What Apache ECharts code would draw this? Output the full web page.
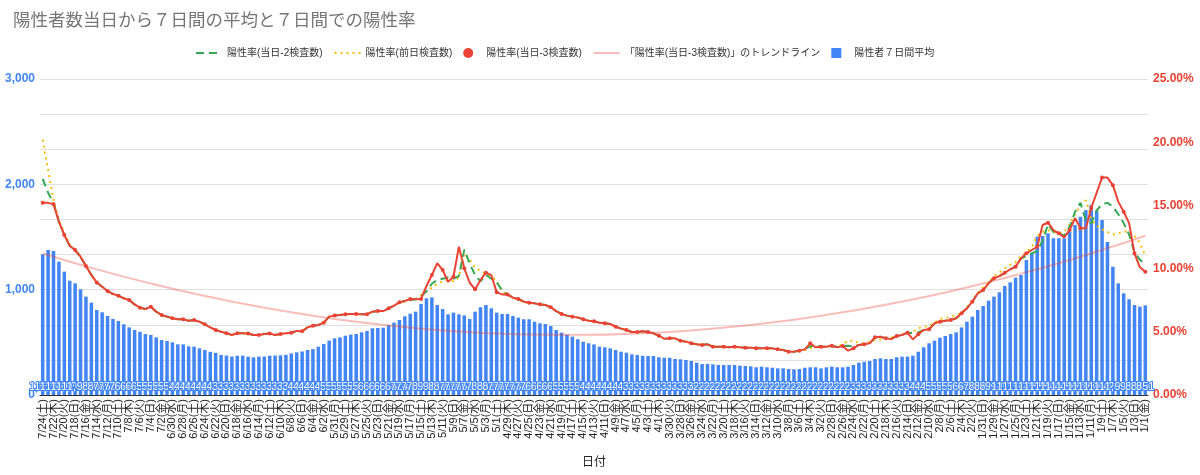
<!DOCTYPE html>
<html><head><meta charset="utf-8">
<script src="https://cdn.jsdelivr.net/npm/echarts@6/dist/echarts.min.js"></script>
<style>html,body{margin:0;padding:0;background:#fff}#c{width:1200px;height:475px}</style>
</head><body><div id="c"></div>
<script>
const categories = [
'7/24(土)','7/23(金)','7/22(木)','7/21(水)','7/20(火)','7/19(月)','7/18(日)','7/17(土)','7/16(金)','7/15(木)','7/14(水)','7/13(火)','7/12(月)','7/11(日)','7/10(土)','7/9(金)','7/8(木)','7/7(水)','7/6(火)','7/5(月)','7/4(日)','7/3(土)','7/2(金)','7/1(木)',
'6/30(水)','6/29(火)','6/28(月)','6/27(日)','6/26(土)','6/25(金)','6/24(木)','6/23(水)','6/22(火)','6/21(月)','6/20(日)','6/19(土)','6/18(金)','6/17(木)','6/16(水)','6/15(火)','6/14(月)','6/13(日)','6/12(土)','6/11(金)','6/10(木)','6/9(水)','6/8(火)','6/7(月)','6/6(日)','6/5(土)','6/4(金)','6/3(木)','6/2(水)','6/1(火)',
'5/31(月)','5/30(日)','5/29(土)','5/28(金)','5/27(木)','5/26(水)','5/25(火)','5/24(月)','5/23(日)','5/22(土)','5/21(金)','5/20(木)','5/19(水)','5/18(火)','5/17(月)','5/16(日)','5/15(土)','5/14(金)','5/13(木)','5/12(水)','5/11(火)','5/10(月)','5/9(日)','5/8(土)','5/7(金)','5/6(木)','5/5(水)','5/4(火)','5/3(月)','5/2(日)','5/1(土)',
'4/30(金)','4/29(木)','4/28(水)','4/27(火)','4/26(月)','4/25(日)','4/24(土)','4/23(金)','4/22(木)','4/21(水)','4/20(火)','4/19(月)','4/18(日)','4/17(土)','4/16(金)','4/15(木)','4/14(水)','4/13(火)','4/12(月)','4/11(日)','4/10(土)','4/9(金)','4/8(木)','4/7(水)','4/6(火)','4/5(月)','4/4(日)','4/3(土)','4/2(金)','4/1(木)',
'3/31(水)','3/30(火)','3/29(月)','3/28(日)','3/27(土)','3/26(金)','3/25(木)','3/24(水)','3/23(火)','3/22(月)','3/21(日)','3/20(土)','3/19(金)','3/18(木)','3/17(水)','3/16(火)','3/15(月)','3/14(日)','3/13(土)','3/12(金)','3/11(木)','3/10(水)','3/9(火)','3/8(月)','3/7(日)','3/6(土)','3/5(金)','3/4(木)','3/3(水)','3/2(火)','3/1(月)',
'2/28(日)','2/27(土)','2/26(金)','2/25(木)','2/24(水)','2/23(火)','2/22(月)','2/21(日)','2/20(土)','2/19(金)','2/18(木)','2/17(水)','2/16(火)','2/15(月)','2/14(日)','2/13(土)','2/12(金)','2/11(木)','2/10(水)','2/9(火)','2/8(月)','2/7(日)','2/6(土)','2/5(金)','2/4(木)','2/3(水)','2/2(火)','2/1(月)',
'1/31(日)','1/30(土)','1/29(金)','1/28(木)','1/27(水)','1/26(火)','1/25(月)','1/24(日)','1/23(土)','1/22(金)','1/21(木)','1/20(水)','1/19(火)','1/18(月)','1/17(日)','1/16(土)','1/15(金)','1/14(木)','1/13(水)','1/12(火)','1/11(月)','1/10(日)','1/9(土)','1/8(金)','1/7(木)','1/6(水)','1/5(火)','1/4(月)','1/3(日)','1/2(土)','1/1(金)'
];

// 陽性者７日間平均
const weeklyAvg = [
1336,1377,1367,1266,1171,1085,1060,1003,934,877,
807,785,750,722,703,671,642,617,600,578,
570,547,522,513,500,481,481,462,459,443,
427,410,400,380,375,365,372,373,364,358,
364,365,373,375,377,382,395,405,413,427,
436,459,484,516,538,547,563,573,579,595,
608,633,636,639,662,687,712,747,772,791,
864,918,927,854,816,766,782,766,756,722,
791,833,854,823,782,769,769,750,734,719,
719,696,681,674,655,617,592,573,554,529,
506,491,480,459,453,443,427,411,402,386,
380,373,370,370,358,354,354,342,339,332,
323,307,294,294,291,285,285,285,285,278,
275,272,263,269,263,259,253,253,247,244,
247,259,263,263,253,263,269,263,263,269,
285,307,316,323,342,348,342,342,358,364,
364,373,411,453,491,516,544,560,579,595,
642,696,744,807,845,896,934,975,1035,1070,
1114,1139,1282,1351,1503,1510,1535,1488,1488,1488,
1551,1614,1693,1756,1804,1750,1661,1453,1218,1060,
965,909,854,839,851
];

// 陽性率(当日-3検査数) %
const rateMinus3 = [
15.2,15.2,15.1,13.7,12.66,11.8,11.47,10.94,10.2,9.5,
8.9,8.57,8.23,7.99,7.86,7.65,7.51,7.17,6.91,6.8,
6.99,6.59,6.33,6.2,6.07,5.99,5.99,5.88,5.93,5.8,
5.59,5.35,5.14,5.01,4.88,4.75,4.88,4.88,4.86,4.75,
4.75,4.83,4.86,4.75,4.83,4.88,4.93,5.07,5.04,5.35,
5.48,5.54,5.72,6.2,6.28,6.33,6.38,6.41,6.41,6.38,
6.38,6.59,6.64,6.64,6.86,7.07,7.33,7.44,7.6,7.57,
7.6,8.62,9.49,10.42,9.89,8.96,9.36,11.73,10.02,8.88,
8.36,9.1,9.68,9.49,8.12,7.96,7.96,7.7,7.6,7.38,
7.3,7.25,7.17,7.12,6.94,6.64,6.41,6.28,6.2,6.14,
5.99,5.88,5.84,5.72,5.67,5.62,5.4,5.25,5.14,4.98,
4.98,5.04,4.98,4.88,4.69,4.45,4.48,4.48,4.3,4.22,
4.09,4.01,3.96,4.01,3.82,3.82,3.82,3.77,3.82,3.77,
3.74,3.74,3.69,3.69,3.69,3.69,3.61,3.56,3.43,3.43,
3.51,3.61,4.09,3.77,3.82,3.82,3.9,3.77,3.88,3.51,
3.69,3.96,4.01,4.09,4.56,4.61,4.48,4.43,4.67,4.75,
4.93,4.4,4.8,5.14,5.2,5.67,5.8,5.88,5.93,6.07,
6.46,6.86,7.38,8.04,8.3,8.83,9.23,9.41,9.67,9.94,
10.15,10.81,11.21,11.47,11.73,13.45,13.63,13.05,12.79,12.47,
13.05,14.0,13.2,13.2,14.8,16.0,17.2,17.2,16.6,15.3,
14.5,13.6,11.2,10.1,9.75
];

// 陽性率(当日-2検査数) %
const rateMinus2 = [
17.1,16.0,15.2,13.7,12.66,11.8,11.47,10.94,10.2,9.5,
8.9,8.57,8.23,7.99,7.86,7.65,7.51,7.17,6.91,6.8,
6.99,6.59,6.33,6.2,6.07,5.99,5.99,5.88,5.93,5.8,
5.59,5.35,5.14,5.01,4.88,4.75,4.88,4.88,4.86,4.75,
4.75,4.83,4.86,4.75,4.83,4.88,4.93,5.07,5.04,5.35,
5.48,5.54,5.72,6.2,6.28,6.33,6.38,6.41,6.41,6.38,
6.38,6.59,6.64,6.64,6.86,7.07,7.33,7.44,7.5,7.57,
7.8,8.2,8.8,9.1,9.2,9.3,9.2,9.4,11.5,10.4,
9.5,9.0,9.5,9.2,8.9,8.3,7.96,7.7,7.6,7.38,
7.3,7.25,7.17,7.12,6.94,6.64,6.41,6.28,6.2,6.14,
5.99,5.88,5.84,5.72,5.67,5.62,5.4,5.25,5.14,4.98,
4.98,5.04,4.98,4.88,4.69,4.45,4.48,4.48,4.3,4.22,
4.09,4.01,3.96,4.01,3.82,3.82,3.82,3.77,3.82,3.77,
3.74,3.74,3.69,3.69,3.69,3.69,3.61,3.56,3.43,3.43,
3.51,3.65,3.85,3.9,3.82,3.82,3.85,3.8,3.85,3.9,
3.85,3.96,4.01,4.09,4.56,4.61,4.48,4.43,4.67,4.75,
4.93,4.9,4.95,5.14,5.2,5.67,5.8,5.88,5.93,6.07,
6.46,6.86,7.38,8.04,8.3,8.83,9.23,9.41,9.67,9.94,
10.15,10.8,11.0,11.2,11.4,12.2,13.5,12.9,12.8,12.6,
13.3,14.5,15.2,13.8,13.6,14.6,15.1,15.2,14.9,14.3,
13.6,12.7,11.3,10.7,10.3
];

// 陽性率(前日検査数) %
const ratePrevDay = [
20.2,17.8,15.4,13.9,12.8,11.9,11.5,10.9,10.2,9.5,
8.9,8.57,8.23,7.99,7.86,7.65,7.51,7.17,6.91,6.8,
6.99,6.59,6.33,6.2,6.07,5.99,5.99,5.88,5.93,5.8,
5.59,5.35,5.14,5.01,4.88,4.75,4.88,4.88,4.86,4.75,
4.75,4.83,4.86,4.75,4.83,4.88,4.93,5.07,5.04,5.35,
5.48,5.54,5.72,6.2,6.28,6.33,6.38,6.41,6.41,6.38,
6.38,6.59,6.64,6.64,6.86,7.07,7.3,7.4,7.5,7.6,
7.9,8.2,8.5,8.8,9.0,9.1,9.0,9.3,11.2,10.7,
10.1,9.8,9.6,9.4,9.0,8.2,7.9,7.7,7.55,7.35,
7.3,7.25,7.17,7.12,6.94,6.64,6.41,6.28,6.2,6.14,
5.99,5.88,5.84,5.72,5.67,5.62,5.4,5.25,5.14,4.98,
4.98,5.04,4.98,4.88,4.69,4.45,4.48,4.48,4.3,4.22,
4.09,4.01,3.96,4.01,3.82,3.82,3.82,3.77,3.82,3.77,
3.74,3.74,3.69,3.69,3.69,3.69,3.61,3.56,3.43,3.43,
3.5,3.55,3.7,3.8,3.8,3.85,3.9,3.85,4.0,4.3,
4.3,4.1,4.1,4.2,4.35,4.4,4.5,4.55,4.6,4.8,
4.9,5.0,5.3,5.4,5.45,5.75,6.0,6.1,6.2,6.3,
6.5,6.95,7.5,8.1,8.5,8.9,9.4,9.7,10.0,10.3,
10.5,11.0,11.3,11.7,12.6,12.9,13.05,12.9,12.8,12.9,
13.5,14.3,15.0,15.4,13.9,13.4,13.1,12.9,12.7,12.8,
12.9,13.0,12.6,12.0,11.0
];

// トレンドライン (read at sample dates)
const trendDates = ['7/24(土)','7/14(水)','7/4(日)','6/24(木)','6/14(月)','6/4(金)','5/25(火)','5/15(土)','5/5(水)','4/25(日)','4/15(木)','4/5(月)','3/26(金)','3/16(火)','3/6(土)','2/24(水)','2/14(日)','2/4(木)','1/25(月)','1/15(金)','1/5(火)','1/1(金)'];
const trendValues = [11.2,9.94,8.82,7.83,6.98,6.27,5.69,5.25,4.95,4.78,4.76,4.87,5.11,5.5,6.02,6.68,7.47,8.41,9.48,10.68,12.03,12.6];

const leftTicks = [0, 3000, 1000];
const rightTicks = [0, 25, 5];

const names = {
  g: '陽性率(当日-2検査数)',
  y: '陽性率(前日検査数)',
  r: '陽性率(当日-3検査数)',
  t: '「陽性率(当日-3検査数)」のトレンドライン',
  b: '陽性者７日間平均'
};

const FONT = "'Liberation Sans','Noto Sans CJK JP',sans-serif";
const chart = echarts.init(document.getElementById('c'), null, {renderer: 'canvas'});
chart.setOption({
  animation: false,
  textStyle: {fontFamily: FONT},
  title: {
    text: '陽性者数当日から７日間の平均と７日間での陽性率',
    left: 8, top: 6,
    textStyle: {fontSize: 17.5, fontWeight: 'normal', color: '#757575', fontFamily: "'Noto Sans CJK JP',sans-serif"}
  },
  legend: {
    top: 43, left: 190,
    itemWidth: 26, itemHeight: 10, itemGap: 11,
    textStyle: {fontSize: 10, color: '#333', fontFamily: FONT},
    data: [
      {name: names.g, itemStyle: {opacity: 0}},
      {name: names.y, itemStyle: {opacity: 0}},
      {name: names.r, icon: 'circle'},
      {name: names.t, itemStyle: {opacity: 0}},
      {name: names.b, icon: 'path://M0,0L10,0L10,10L0,10Z'}
    ]
  },
  grid: {left: 40, right: 52, top: 79, bottom: 80},
  xAxis: {
    type: 'category',
    data: categories,
    boundaryGap: true,
    axisTick: {show: false},
    axisLine: {lineStyle: {color: '#333'}},
    axisLabel: {rotate: 90, interval: 1, fontSize: 11, color: '#222', margin: 4, fontFamily: FONT},
    name: '日付',
    nameLocation: 'middle',
    nameGap: 62,
    nameTextStyle: {fontSize: 12, color: '#222', fontFamily: FONT}
  },
  yAxis: [
    {
      type: 'value', position: 'left', min: leftTicks[0], max: leftTicks[1], interval: leftTicks[2],
      splitLine: {show: false}, axisLine: {show: false}, axisTick: {show: false},
      axisLabel: {color: '#4285f4', fontWeight: 'bold', fontSize: 12, margin: 5,
        formatter: v => v.toLocaleString('en-US')}
    },
    {
      type: 'value', position: 'right', min: rightTicks[0], max: rightTicks[1], interval: rightTicks[2],
      splitLine: {show: false}, axisLine: {show: false}, axisTick: {show: false},
      axisLabel: {color: '#ea4335', fontWeight: 'bold', fontSize: 12, margin: 5,
        formatter: v => v.toFixed(2) + '%'}
    },
    {
      type: 'value', position: 'left', min: 0, max: 9, interval: 1,
      axisLabel: {show: false}, axisLine: {show: false}, axisTick: {show: false},
      splitLine: {show: true, lineStyle: {color: '#e0e0e0', width: 1}}
    }
  ],
  series: [
    {
      name: names.b, type: 'bar', yAxisIndex: 0, data: weeklyAvg,
      barWidth: '65%',
      itemStyle: {color: '#4285f4'},
      label: {
        show: true, position: 'insideBottom', distance: 3,
        fontSize: 11, color: '#fff', textBorderColor: '#4285f4', textBorderWidth: 2,
        fontFamily: FONT,
        formatter: p => p.value.toLocaleString('en-US')
      },
      z: 1
    },
    {
      name: names.t, type: 'line', yAxisIndex: 1, smooth: true, symbol: 'none',
      data: trendDates.map((d, k) => [d, trendValues[k]]),
      lineStyle: {color: 'rgba(234,67,53,0.35)', width: 2},
      itemStyle: {color: 'rgba(234,67,53,0.35)'},
      z: 2
    },
    {
      name: names.y, type: 'line', yAxisIndex: 1, symbol: 'none', data: ratePrevDay,
      lineStyle: {color: '#fbbc04', width: 2, type: [2, 4]},
      itemStyle: {color: '#fbbc04'},
      z: 3
    },
    {
      name: names.g, type: 'line', yAxisIndex: 1, symbol: 'none', data: rateMinus2,
      lineStyle: {color: '#34a853', width: 2, type: [8, 5]},
      itemStyle: {color: '#34a853'},
      z: 4
    },
    {
      name: names.r, type: 'line', yAxisIndex: 1, symbol: 'circle', symbolSize: 4, data: rateMinus3,
      lineStyle: {color: '#ea4335', width: 2},
      itemStyle: {color: '#ea4335'},
      z: 5
    }
  ]
});
</script>
</body></html>
